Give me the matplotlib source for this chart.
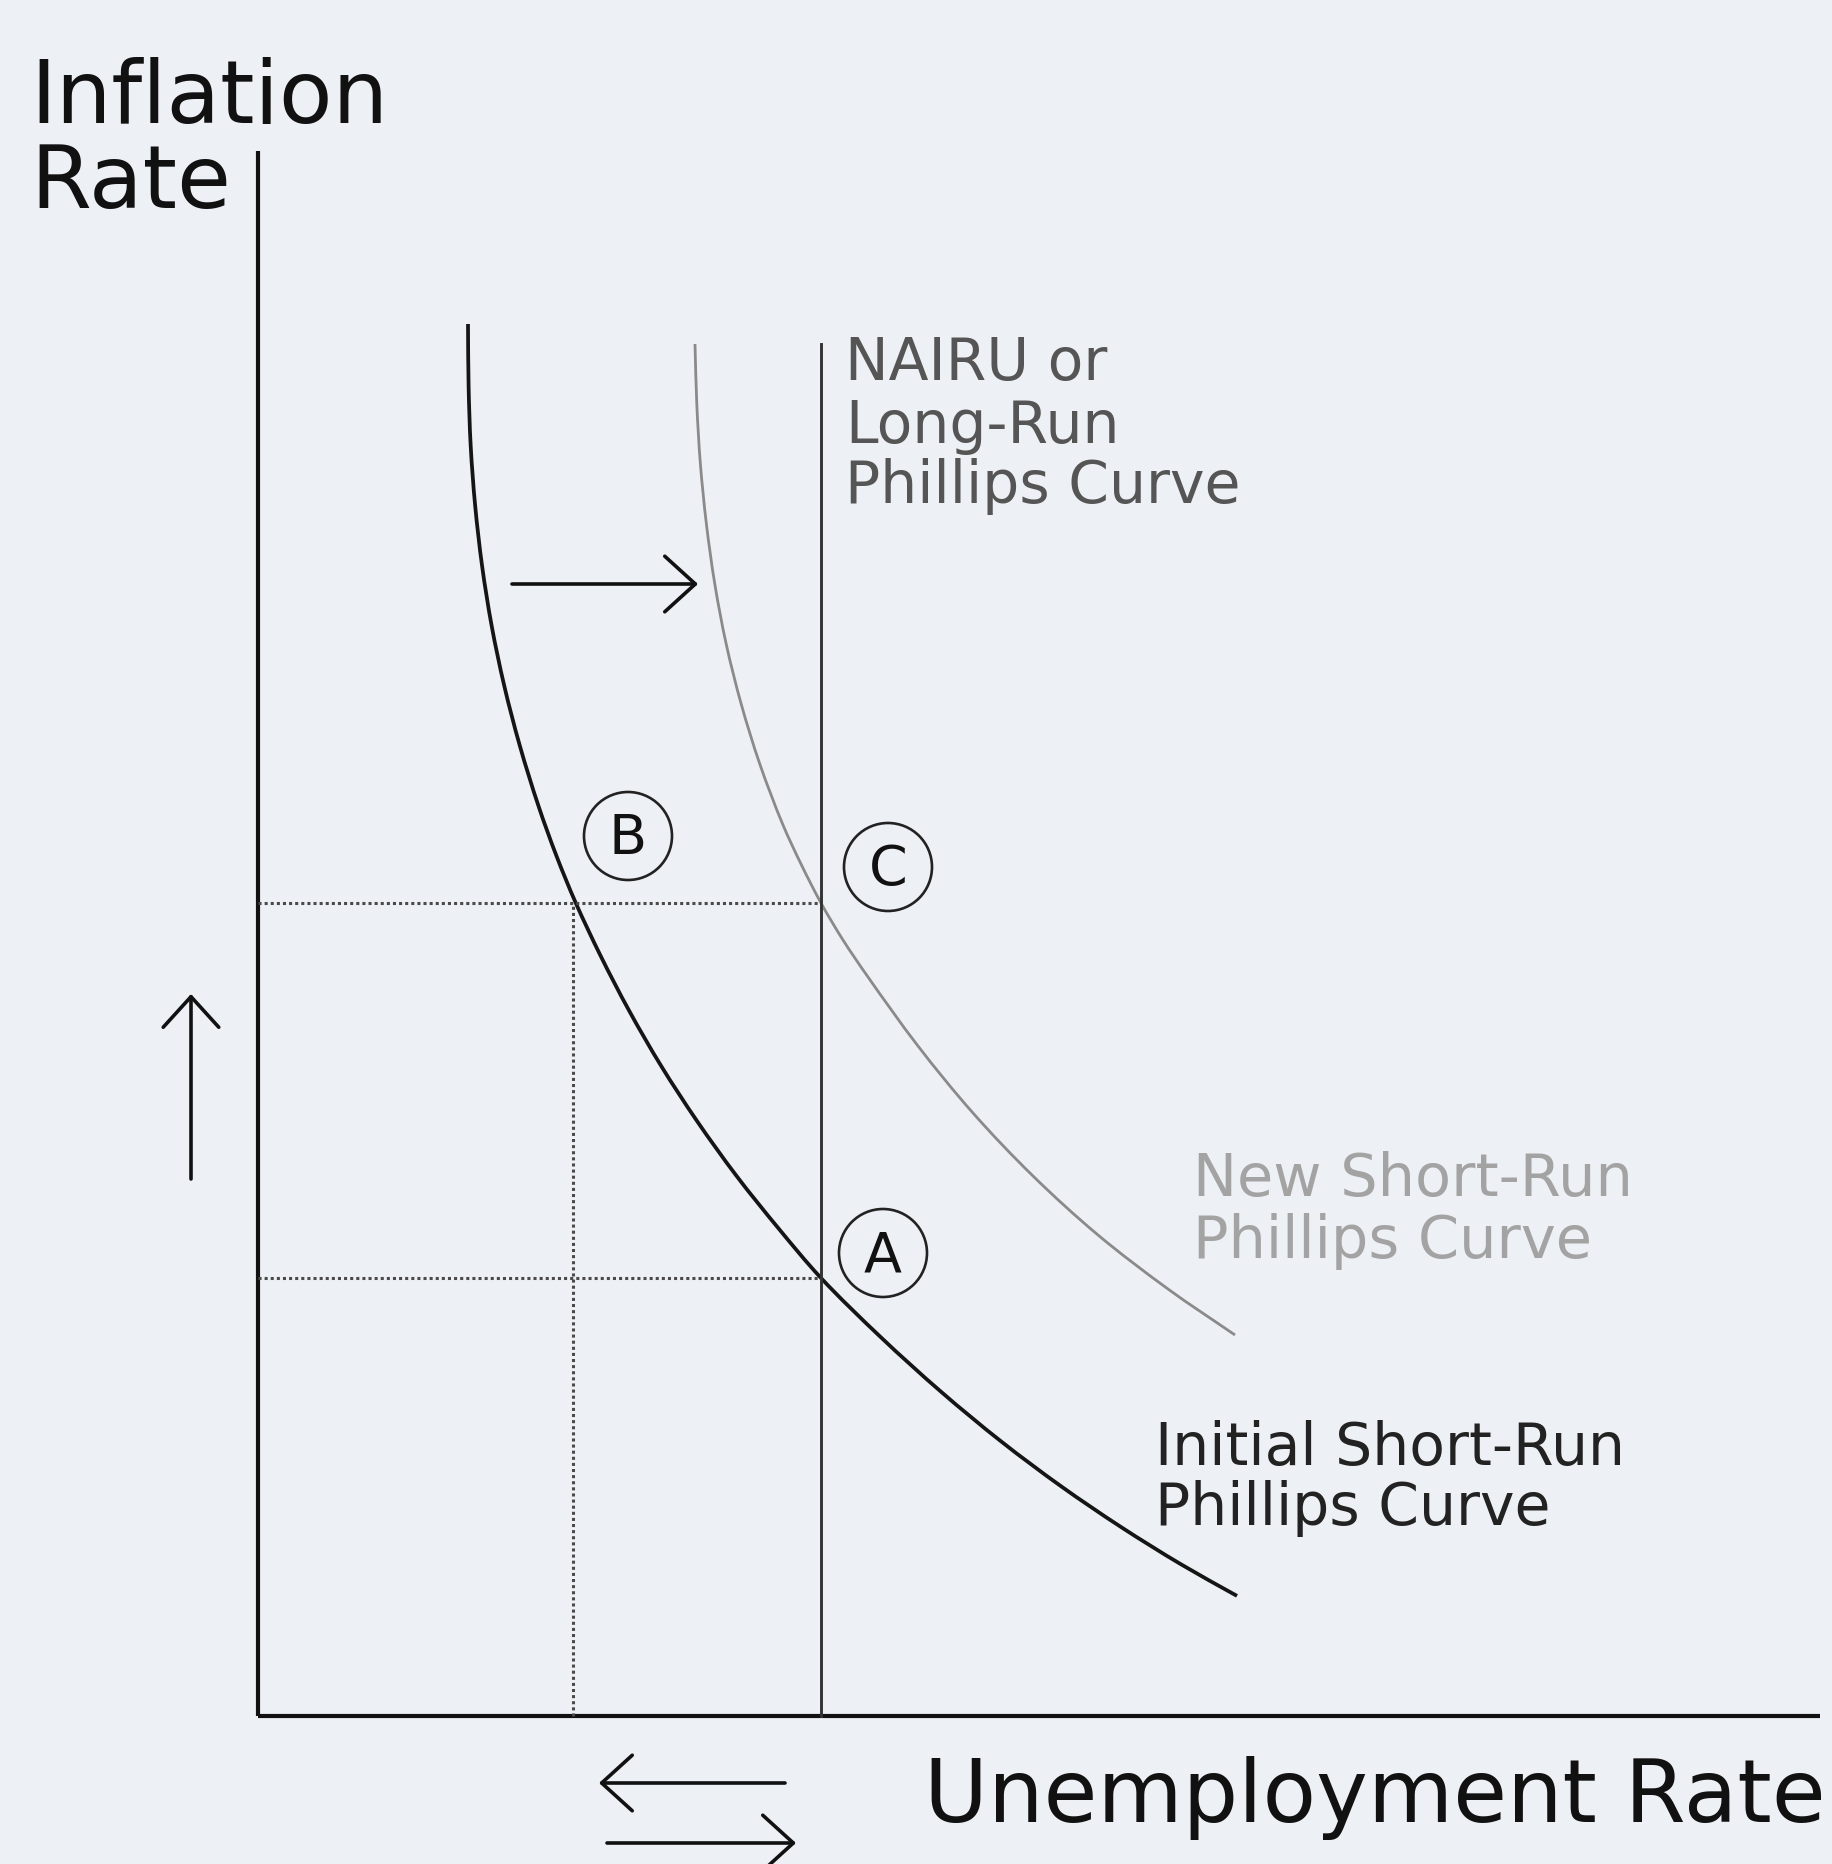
import numpy as np
import matplotlib.pyplot as plt
from matplotlib.patches import Circle, PathPatch
from matplotlib.path import Path

plt.rcParams['font.family'] = ['DejaVu Sans']

# values, units = 100 px of the original, origin at the axis corner
initial_x = [2.100, 2.106, 2.127, 2.172, 2.241, 2.337, 2.463, 2.619, 2.805, 2.985, 3.178, 3.427, 3.713,
             4.032, 4.390, 4.786, 5.202, 5.630, 6.230, 6.830, 7.430, 8.030, 8.630, 9.230, 9.790]
initial_y = [13.92, 13.30, 12.70, 12.10, 11.50, 10.90, 10.30, 9.70, 9.10, 8.60, 8.13, 7.60, 7.05,
             6.50, 5.95, 5.40, 4.88, 4.38, 3.786, 3.243, 2.747, 2.298, 1.890, 1.517, 1.201]

new_x = [4.370, 4.388, 4.424, 4.484, 4.568, 4.682, 4.832, 5.018, 5.246, 5.430, 5.630, 5.850, 6.100,
         6.600, 7.150, 7.750, 8.400, 9.100, 9.770]
new_y = [13.72, 13.12, 12.52, 11.92, 11.32, 10.72, 10.12, 9.52, 8.92, 8.52, 8.13, 7.76, 7.39,
         6.70, 6.03, 5.40, 4.81, 4.27, 3.81]

nairu_x = 5.63
nairu_top = 13.72
rate_high = 8.13   # inflation at B and C
rate_low = 4.38    # inflation at A
unemp_low = 3.15   # unemployment at B

x_axis_end = 15.62
y_axis_end = 15.65

point_names = ['A', 'B', 'C']
point_x = [6.25, 3.70, 6.30]
point_y = [4.63, 8.80, 8.49]

bg = '#edf0f4'

fig = plt.figure(figsize=(18.33, 18.65), dpi=100)
fig.patch.set_facecolor(bg)
ax = fig.add_axes([0, 0, 1, 1])
ax.set_facecolor(bg)
ax.set_xlim(-2.58, 15.75)
ax.set_ylim(-1.48, 17.17)
ax.axis('off')


def smooth_curve(xs, ys, **kw):
    # centripetal catmull-rom through the read points, as cubic bezier segments
    pts = np.column_stack([xs, ys])
    ext = np.vstack([2 * pts[0] - pts[1], pts, 2 * pts[-1] - pts[-2]])
    verts = [tuple(pts[0])]
    codes = [Path.MOVETO]
    for i in range(1, len(ext) - 2):
        p0, p1, p2, p3 = ext[i - 1], ext[i], ext[i + 1], ext[i + 2]
        d0 = np.hypot(*(p1 - p0)) ** 0.5
        d1 = np.hypot(*(p2 - p1)) ** 0.5
        d2 = np.hypot(*(p3 - p2)) ** 0.5
        t1 = d1 * ((p1 - p0) / d0 - (p2 - p0) / (d0 + d1) + (p2 - p1) / d1)
        t2 = d1 * ((p2 - p1) / d1 - (p3 - p1) / (d1 + d2) + (p3 - p2) / d2)
        verts += [tuple(p1 + t1 / 3), tuple(p2 - t2 / 3), tuple(p2)]
        codes += [Path.CURVE4] * 3
    ax.add_patch(PathPatch(Path(verts, codes), fill=False, capstyle='butt', **kw))


# axes
ax.plot([0, 0], [0, y_axis_end], color='#111111', lw=3.0, solid_capstyle='butt')
ax.plot([0, x_axis_end], [0, 0], color='#111111', lw=3.0, solid_capstyle='butt')

# dotted guides
dot = dict(color='#4a4a4a', lw=2.2, linestyle=(0, (1, 1.0)))
ax.plot([0, nairu_x], [rate_high, rate_high], **dot)
ax.plot([0, nairu_x], [rate_low, rate_low], **dot)
ax.plot([unemp_low, unemp_low], [0, rate_high], **dot)

# long-run (NAIRU) line
ax.plot([nairu_x, nairu_x], [0, nairu_top], color='#333333', lw=2.1)

# short-run curves
smooth_curve(new_x, new_y, ec='#8a8a8a', lw=2.0)
smooth_curve(initial_x, initial_y, ec='#151515', lw=2.7)

# circled points
for name, px, py in zip(point_names, point_x, point_y):
    ax.add_patch(Circle((px, py), 0.44, fill=False, ec='#222222', lw=1.9))
    ax.text(px, py - 0.02, name, fontsize=40, ha='center', va='center', color='#111111')


# arrows
def arrow(tail, tip):
    ax.annotate('', xy=tip, xytext=tail,
                arrowprops=dict(arrowstyle='->,head_length=1.1,head_width=1.0',
                                lw=2.6, color='#111111', shrinkA=0, shrinkB=0,
                                mutation_scale=20))


arrow((2.54, 11.32), (4.40, 11.32))
arrow((-0.67, 5.37), (-0.67, 7.22))
arrow((5.27, -0.67), (3.41, -0.67))
arrow((3.49, -1.27), (5.38, -1.27))


# labels
def lines(x, baselines, texts, size, color, ha='left'):
    for b, t in zip(baselines, texts):
        ax.text(x, b, t, fontsize=size, color=color, ha=ha, va='baseline')


lines(-2.28, [15.94, 15.09], ['Inflation', 'Rate'], 63, '#111111')
lines(15.68, [-1.05], ['Unemployment Rate'], 63, '#111111', ha='right')
lines(5.87, [13.37, 12.74, 12.14], ['NAIRU or', 'Long-Run', 'Phillips Curve'], 42, '#555555')
lines(9.35, [5.21, 4.59], ['New Short-Run', 'Phillips Curve'], 42.5, '#a3a3a3')
lines(8.97, [2.52, 1.92], ['Initial Short-Run', 'Phillips Curve'], 42, '#222222')

fig.savefig('out.png', dpi=100, facecolor=bg)
